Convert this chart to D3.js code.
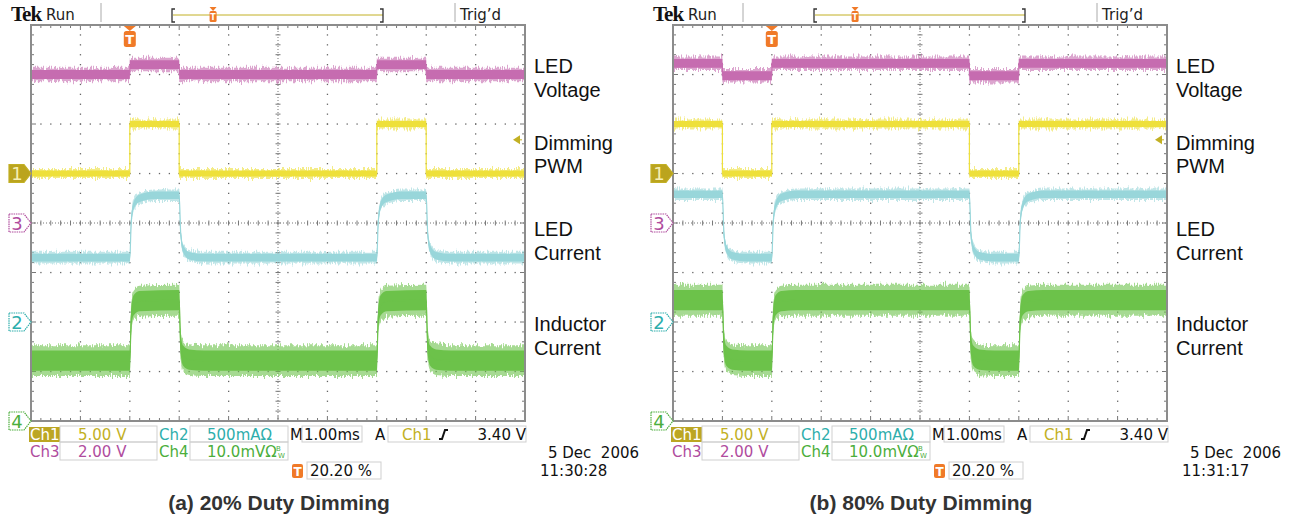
<!DOCTYPE html>
<meta charset="utf-8">
<style>
body { margin: 0; background: #fff; }
svg { display: block; }
.lab { font-family: "Liberation Sans", Arial, sans-serif; font-size: 20px; fill: #111; }
.cap { font-family: "Liberation Sans", Arial, sans-serif; font-size: 21px; font-weight: bold; fill: #333; }
.tk { font-family: "DejaVu Sans", sans-serif; font-size: 15px; }
</style>
<svg width="1293" height="520"></svg>
<script src="https://d3js.org/d3.v7.min.js"></script>
<script>

// time base 1.00 ms/div, trigger 2 div from the left edge
var timeDomain = [-2, 8];

// (a) 20% duty: [time ms, value]
var pwmA  = [[-2,0],[0,0],[0,5],[1,5],[1,0],[5,0],[5,5],[6,5],[6,0],[8,0]];                       // V
var ledVA = [[-2,6.0],[0,6.0],[0,6.4],[1,6.4],[1,6.0],[5,6.0],[5,6.4],[6,6.4],[6,6.0],[8,6.0]];   // V
var ledIA = [[-2,0.65],[0,0.65],[0.03,1.02],[0.08,1.18],[0.2,1.25],[0.5,1.28],[1,1.28],[1.03,0.9],[1.08,0.74],[1.2,0.67],[1.5,0.65],
             [5,0.65],[5.03,1.02],[5.08,1.18],[5.2,1.25],[5.5,1.28],[6,1.28],[6.03,0.9],[6.08,0.74],[6.2,0.67],[6.5,0.65],[8,0.65]]; // A
var indA  = [[-2,12.2],[0,12.2],[0.03,21],[0.08,23.4],[0.2,24.2],[1,24.4],[1.03,15.5],[1.08,13.2],[1.2,12.4],[1.5,12.2],
             [5,12.2],[5.03,21],[5.08,23.4],[5.2,24.2],[6,24.4],[6.03,15.5],[6.08,13.2],[6.2,12.4],[6.5,12.2],[8,12.2]]; // mV

// (b) 80% duty
var pwmB  = [[-2,5],[-1,5],[-1,0],[0,0],[0,5],[4,5],[4,0],[5,0],[5,5],[8,5]];
var ledVB = [[-2,6.45],[-1,6.45],[-1,5.95],[0,5.95],[0,6.45],[4,6.45],[4,5.95],[5,5.95],[5,6.45],[8,6.45]];
var ledIB = [[-2,1.29],[-1,1.29],[-0.97,0.9],[-0.92,0.74],[-0.8,0.67],[-0.5,0.65],[0,0.65],[0.03,1.02],[0.08,1.18],[0.2,1.26],[0.5,1.29],
             [4,1.29],[4.03,0.9],[4.08,0.74],[4.2,0.67],[4.5,0.65],[5,0.65],[5.03,1.02],[5.08,1.18],[5.2,1.26],[5.5,1.29],[8,1.29]];
var indB  = [[-2,24.4],[-1,24.4],[-0.97,15.5],[-0.92,13.2],[-0.8,12.4],[-0.5,12.2],[0,12.2],[0.03,21],[0.08,23.4],[0.2,24.2],[0.5,24.4],
             [4,24.4],[4.03,15.5],[4.08,13.2],[4.2,12.4],[4.5,12.2],[5,12.2],[5.03,21],[5.08,23.4],[5.2,24.2],[5.5,24.4],[8,24.4]];

// noise / ripple half-widths (channel units)
var pwmNoise = 0.35, ledVNoise = 0.21, ledINoise = 0.045, indRipple = 2.4;

// channel settings: per div and ground marker position (div from centre)
var ch1 = {perDiv: 5.00, pos: 1},  ch2 = {perDiv: 0.5, pos: -2},
    ch3 = {perDiv: 2.00, pos: 0},  ch4 = {perDiv: 10.0, pos: -4};
var trigLevel = 3.40;

var captions = ["(a) 20% Duty Dimming", "(b) 80% Duty Dimming"];
var times = ["11:30:28", "11:31:17"];
var date = "5 Dec  2006";

var panels = [
  {x0: 0,   pwm: pwmA, ledV: ledVA, ledI: ledIA, ind: indA},
  {x0: 642, pwm: pwmB, ledV: ledVB, ledI: ledIB, ind: indB}
];

var cMag = "#c66cb0", cYel = "#eee03a", cCyan = "#98d6da", cGrn = "#6cc24a",
    tYel = "#c2b024", tMag = "#b04c9e", tTeal = "#2eaeac", tGrn = "#4cae3c", cOr = "#f07a28";

var svg = d3.select("svg");
var defs = svg.append("defs");
var f = defs.append("filter").attr("id", "fuzz").attr("color-interpolation-filters", "sRGB")
    .attr("x", "-1%").attr("y", "-40%").attr("width", "102%").attr("height", "180%");
f.append("feTurbulence").attr("type", "fractalNoise").attr("baseFrequency", "1.2 0.08")
    .attr("numOctaves", 2).attr("seed", 5).attr("result", "n");
f.append("feColorMatrix").attr("in", "n").attr("type", "matrix")
    .attr("values", "1 0 0 0 0  0 0 0 0 0.5  0 0 0 0 0  0 0 0 0 1").attr("result", "nm");
f.append("feDisplacementMap").attr("in", "SourceGraphic").attr("in2", "nm")
    .attr("scale", 10).attr("xChannelSelector", "G").attr("yChannelSelector", "R");

var GW = 494, GH = 396, GX = 31, GY = 25;

panels.forEach(function(p, pi) {
  var g = svg.append("g").attr("transform", "translate(" + p.x0 + ",0)");
  var x = d3.scaleLinear().domain(timeDomain).range([GX, GX + GW]);
  var yd = d3.scaleLinear().domain([-4, 4]).range([GY + GH, GY]);
  var dx = GW / 10, dy = GH / 8;

  // graticule
  var gr = g.append("g").attr("fill", "#666");
  for (var i = 1; i < 10; i++) {
    if (i == 5) continue;
    for (var k = 1; k < 40; k++)
      gr.append("rect").attr("x", GX + i * dx - 0.6).attr("y", GY + k * dy / 5 - 0.6).attr("width", 1.3).attr("height", 1.3);
  }
  for (var j = 1; j < 8; j++) {
    if (j == 4) continue;
    for (var k = 1; k < 50; k++)
      gr.append("rect").attr("x", GX + k * dx / 5 - 0.6).attr("y", GY + j * dy - 0.6).attr("width", 1.3).attr("height", 1.3);
  }
  var cx = GX + 5 * dx, cy = GY + 4 * dy;
  g.append("line").attr("x1", GX).attr("x2", GX + GW).attr("y1", cy).attr("y2", cy)
    .attr("stroke", "#777").attr("stroke-dasharray", "1,2");
  g.append("line").attr("y1", GY).attr("y2", GY + GH).attr("x1", cx).attr("x2", cx)
    .attr("stroke", "#777").attr("stroke-dasharray", "1,2");
  var tk = g.append("g").attr("stroke", "#777").attr("stroke-width", 1);
  for (var k = 1; k < 50; k++) {
    var xx = GX + k * dx / 5, L = (k % 5 == 0) ? 5 : 3;
    tk.append("line").attr("x1", xx).attr("x2", xx).attr("y1", cy - 2.5).attr("y2", cy + 2.5);
    tk.append("line").attr("x1", xx).attr("x2", xx).attr("y1", GY).attr("y2", GY + L);
    tk.append("line").attr("x1", xx).attr("x2", xx).attr("y1", GY + GH).attr("y2", GY + GH - L);
  }
  for (var k = 1; k < 40; k++) {
    var yy = GY + k * dy / 5, L = (k % 5 == 0) ? 5 : 3;
    tk.append("line").attr("y1", yy).attr("y2", yy).attr("x1", cx - 2.5).attr("x2", cx + 2.5);
    tk.append("line").attr("y1", yy).attr("y2", yy).attr("x1", GX).attr("x2", GX + L);
    tk.append("line").attr("y1", yy).attr("y2", yy).attr("x1", GX + GW).attr("x2", GX + GW - L);
  }
  g.append("rect").attr("x", GX).attr("y", GY).attr("width", GW).attr("height", GH)
    .attr("fill", "none").attr("stroke", "#8c8c8c").attr("stroke-width", 2);

  // traces
  g.append("clipPath").attr("id", "clip" + pi).append("rect")
    .attr("x", GX + 1).attr("y", GY + 1).attr("width", GW - 2).attr("height", GH - 2);
  var tr = g.append("g").attr("clip-path", "url(#clip" + pi + ")");

  function trace(data, ch, noise, color, curve) {
    var yv = function(v) { return yd(ch.pos + v / ch.perDiv); };
    var area = function(n) {
      return d3.area().curve(curve).x(function(d) { return x(d[0]); })
        .y0(function(d) { return yv(d[1] - n); }).y1(function(d) { return yv(d[1] + n); });
    };
    tr.append("path").attr("d", area(noise * 1.3)(data)).attr("fill", color).attr("opacity", 0.6)
      .attr("filter", "url(#fuzz)");
    tr.append("path").attr("d", area(noise * 0.85)(data)).attr("fill", color);
    tr.append("path").attr("d", d3.line().curve(curve).x(function(d) { return x(d[0]); })
        .y(function(d) { return yv(d[1]); })(data))
      .attr("fill", "none").attr("stroke", color).attr("stroke-width", 1.2);
  }
  trace(p.ledV, ch3, ledVNoise, cMag, d3.curveLinear);
  trace(p.pwm, ch1, pwmNoise, cYel, d3.curveLinear);
  trace(p.ledI, ch2, ledINoise, cCyan, d3.curveMonotoneX);
  trace(p.ind, ch4, indRipple, cGrn, d3.curveMonotoneX);

  // channel markers
  var marks = [[ch1, "1", tYel, true], [ch3, "3", tMag, false], [ch2, "2", tTeal, false], [ch4, "4", tGrn, false]];
  marks.forEach(function(m) {
    var yy = yd(m[0].pos);
    g.append("path").attr("d", "M9," + (yy - 9) + "H24L31," + yy + "L24," + (yy + 9) + "H9Z")
      .attr("fill", m[3] ? "#bba41e" : "#fff").attr("stroke", m[2]).attr("stroke-width", 1.2)
      .attr("stroke-dasharray", m[3] ? null : "1.5,0.8");
    g.append("text").attr("x", 17).attr("y", yy + 6.5).attr("text-anchor", "middle")
      .attr("font-family", "DejaVu Sans").attr("font-size", 18)
      .attr("fill", m[3] ? "#f6efb4" : m[2]).text(m[1]);
  });

  // trigger level arrow
  var ty = yd(ch1.pos + trigLevel / ch1.perDiv);
  g.append("path").attr("d", "M513," + ty + "L520," + (ty - 4.5) + "V" + (ty + 4.5) + "Z").attr("fill", tYel);
  g.append("line").attr("x1", 516).attr("x2", 522).attr("y1", ty).attr("y2", ty).attr("stroke", tYel);

  // trigger position marker
  var tx = x(0);
  g.append("path").attr("d", "M" + (tx - 6) + ",26H" + (tx + 6) + "L" + tx + ",31Z").attr("fill", cOr);
  g.append("rect").attr("x", tx - 6).attr("y", 31).attr("width", 12).attr("height", 16).attr("rx", 2.5).attr("fill", cOr);
  g.append("text").attr("x", tx).attr("y", 44).attr("text-anchor", "middle").attr("fill", "#fff")
    .attr("font-family", "DejaVu Sans").attr("font-weight", "bold").attr("font-size", 13).text("T");

  // header
  g.append("text").attr("x", 11).attr("y", 21).attr("font-family", "Liberation Serif")
    .attr("font-weight", "bold").attr("font-size", 21).attr("letter-spacing", -1).attr("fill", "#111").text("Tek");
  g.append("text").attr("class", "tk").attr("x", 46).attr("y", 20).attr("fill", "#222").text("Run");
  g.append("line").attr("x1", 101).attr("x2", 101).attr("y1", 3).attr("y2", 22).attr("stroke", "#aaa");
  g.append("line").attr("x1", 455).attr("x2", 455).attr("y1", 3).attr("y2", 22).attr("stroke", "#aaa");
  g.append("text").attr("class", "tk").attr("x", 460).attr("y", 20).attr("fill", "#222").text("Trig\u2019d");
  g.append("line").attr("x1", 173).attr("x2", 383).attr("y1", 15).attr("y2", 15).attr("stroke", tYel);
  g.append("path").attr("d", "M175,9H172V22H175M380,9H383V22H380").attr("fill", "none").attr("stroke", "#333").attr("stroke-width", 1.3);
  var hx = 172 + (383 - 172) * (2 / 10) * 0.95 + 1;
  g.append("path").attr("d", "M" + (hx - 3.5) + ",7H" + (hx + 3.5) + "L" + hx + ",11Z").attr("fill", cOr);
  g.append("rect").attr("x", hx - 3.5).attr("y", 11).attr("width", 7).attr("height", 11).attr("rx", 1.5).attr("fill", cOr);
  g.append("text").attr("x", hx).attr("y", 20).attr("text-anchor", "middle").attr("fill", "#fff")
    .attr("font-family", "DejaVu Sans").attr("font-weight", "bold").attr("font-size", 8).text("T");

  // status readout
  var st = g.append("g").attr("class", "tk");
  var box = function(x1, y1, w, h) {
    st.append("rect").attr("x", x1).attr("y", y1).attr("width", w).attr("height", h)
      .attr("fill", "none").attr("stroke", "#cfcfcf");
  };
  st.append("rect").attr("x", 29).attr("y", 427).attr("width", 31).attr("height", 15).attr("fill", "#bca623");
  st.append("text").attr("x", 30).attr("y", 440).attr("fill", "#fff").text("Ch1");
  box(60, 426, 97, 16); box(60, 442, 97, 18);
  st.append("text").attr("x", 78).attr("y", 440).attr("fill", tYel).text("5.00 V");
  st.append("text").attr("x", 159).attr("y", 440).attr("fill", tTeal).text("Ch2");
  box(190, 426, 98, 16); box(190, 442, 98, 18);
  st.append("text").attr("x", 207).attr("y", 440).attr("fill", tTeal).text("500mA\u03a9");
  st.append("text").attr("x", 290).attr("y", 440).attr("fill", "#111").text("M");
  box(302, 426, 60, 16);
  st.append("text").attr("x", 304).attr("y", 440).attr("fill", "#111").text("1.00ms");
  st.append("text").attr("x", 375).attr("y", 440).attr("fill", "#111").text("A");
  box(388, 426, 138, 16);
  st.append("text").attr("x", 402).attr("y", 440).attr("fill", tYel).text("Ch1");
  st.append("path").attr("d", "M439,439H442L445,430H448").attr("fill", "none").attr("stroke", "#111").attr("stroke-width", 2);
  st.append("text").attr("x", 526).attr("y", 440).attr("text-anchor", "end").attr("fill", "#111").text("3.40 V");
  st.append("text").attr("x", 30).attr("y", 457).attr("fill", tMag).text("Ch3");
  st.append("text").attr("x", 78).attr("y", 457).attr("fill", tMag).text("2.00 V");
  st.append("text").attr("x", 159).attr("y", 457).attr("fill", tGrn).text("Ch4");
  st.append("text").attr("x", 207).attr("y", 457).attr("fill", tGrn).text("10.0mV\u03a9");
  st.append("text").attr("x", 276).attr("y", 451).attr("font-size", 7).attr("fill", tGrn).text("B");
  st.append("text").attr("x", 278).attr("y", 458).attr("font-size", 7).attr("fill", tGrn).text("W");
  st.append("rect").attr("x", 292).attr("y", 464).attr("width", 11).attr("height", 14).attr("rx", 2).attr("fill", cOr);
  st.append("text").attr("x", 297.5).attr("y", 476).attr("text-anchor", "middle").attr("font-size", 12)
    .attr("font-weight", "bold").attr("fill", "#fff").text("T");
  box(307, 462, 74, 17);
  st.append("text").attr("x", 310).attr("y", 476).attr("fill", "#111").text("20.20 %");
  st.append("text").attr("x", 548).attr("y", 458).attr("fill", "#111").style("white-space", "pre").text(date);
  st.append("text").attr("x", 540).attr("y", 476).attr("fill", "#111").text(times[pi]);

  // side labels
  var labels = [["LED", 73], ["Voltage", 97], ["Dimming", 150], ["PWM", 173],
                ["LED", 236], ["Current", 260], ["Inductor", 331], ["Current", 355]];
  labels.forEach(function(l) {
    g.append("text").attr("class", "lab").attr("x", 534).attr("y", l[1]).text(l[0]);
  });

  g.append("text").attr("class", "cap").attr("x", 279).attr("y", 510).attr("text-anchor", "middle").text(captions[pi]);
});

</script>
